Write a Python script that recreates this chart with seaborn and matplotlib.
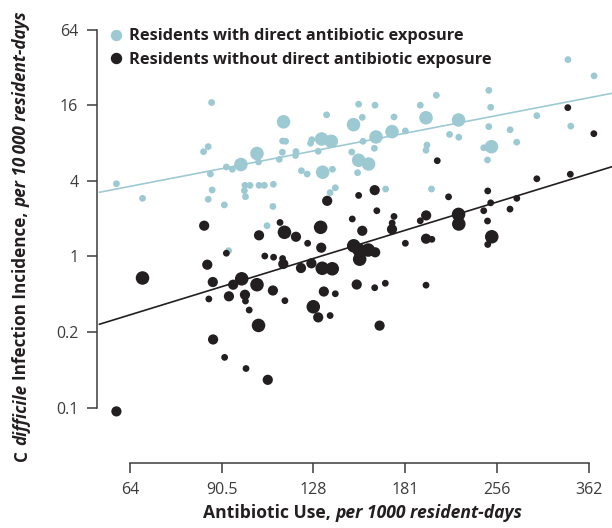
import numpy as np
import pandas as pd
import matplotlib
matplotlib.use("Agg")
import matplotlib.pyplot as plt
import seaborn as sns
from matplotlib.lines import Line2D

# ---------------- data ----------------
light_x = [60.8, 67.1, 87.1, 86.0, 84.5, 103.4, 104.0, 97.3, 92.1, 94.2,
           86.7, 87.3, 86.0, 91.4, 98.8, 100.7, 98.6, 99.0, 104.2, 106.3,
           110.0, 109.8, 107.4, 92.9, 114.3, 113.9, 115.2, 113.8, 119.8, 119.6,
           112.5, 122.3, 125.0, 203.6, 151.8, 161.5, 191.6, 134.5, 153.9, 173.5,
           148.9, 195.8, 162.1, 172.2, 181.1, 132.0, 136.9, 127.2, 126.6, 154.3,
           161.1, 130.3, 147.9, 196.5, 195.8, 151.8, 157.6, 151.2, 132.5, 137.5,
           136.3, 139.0, 168.1, 199.9, 334.7, 369.4, 248.2, 250.0, 297.6, 338.3,
           248.2, 269.0, 214.0, 221.6, 221.4, 275.8, 250.7, 243.5, 247.0]
light_y = [3.79, 2.90, 16.8, 7.48, 6.82, 6.60, 5.65, 5.39, 5.15, 4.94,
           4.53, 3.38, 2.85, 2.57, 3.68, 3.68, 3.34, 2.99, 3.68, 3.68,
           3.75, 2.50, 1.756, 1.11, 11.8, 8.30, 8.25, 6.75, 6.84, 6.36,
           5.93, 4.81, 4.53, 19.2, 16.3, 16.0, 16.0, 13.4, 12.8, 12.9,
           11.2, 12.7, 8.94, 9.85, 9.98, 8.61, 8.25, 8.50, 7.96, 8.25,
           7.26, 6.87, 6.78, 7.71, 7.00, 5.83, 5.44, 4.64, 4.68, 4.94,
           3.22, 3.52, 3.44, 3.44, 36.9, 27.4, 21.0, 15.4, 13.2, 10.9,
           10.8, 10.2, 9.36, 8.89, 12.2, 8.12, 7.47, 7.33, 5.86]
light_size = [1, 1, 1, 1, 1, 3, 1, 3, 1, 1,
              1, 1, 1, 1, 1, 1, 1, 1, 1, 1,
              1, 1, 1, 1, 3, 1, 1, 1, 1, 1,
              1, 1, 1, 1, 1, 1, 1, 1, 1, 1,
              3, 3, 3, 3, 1, 3, 3, 1, 1, 1,
              1, 1, 1, 1, 1, 3, 3, 1, 3, 1,
              1, 1, 1, 1, 1, 1, 1, 1, 1, 1,
              1, 1, 1, 1, 3, 1, 3, 1, 1]

dark_x = [60.8, 67.1, 84.7, 104.2, 112.8, 114.7, 119.8, 92.1, 106.5, 110.1,
          113.9, 114.2, 85.7, 87.5, 97.6, 94.5, 103.4, 109.8, 86.2, 93.0,
          98.8, 99.0, 100.4, 104.0, 87.6, 91.5, 99.2, 107.7, 114.9, 122.1,
          127.0, 132.3, 137.4, 133.1, 139.0, 150.7, 161.3, 167.9, 195.8, 127.9,
          130.3, 136.3, 164.3, 161.3, 151.8, 134.8, 213.2, 162.6, 148.2, 173.5,
          172.3, 172.2, 195.9, 191.6, 131.5, 153.9, 125.2, 131.8, 195.8, 200.2,
          181.1, 149.0, 152.1, 157.4, 161.6, 152.4, 369.1, 334.5, 204.3, 337.7,
          297.6, 247.2, 250.0, 275.9, 243.5, 268.9, 221.4, 221.6, 247.0, 251.0,
          247.2]
dark_y = [0.0583, 0.673, 1.756, 1.472, 1.862, 1.556, 1.433, 1.060, 1.007, 0.985,
          0.962, 0.870, 0.859, 0.625, 0.663, 0.595, 0.595, 0.535, 0.458, 0.481,
          0.495, 0.441, 0.374, 0.282, 0.218, 0.157, 0.128, 0.104, 0.444, 0.808,
          0.881, 0.804, 0.797, 0.525, 0.504, 0.597, 0.563, 0.611, 0.590, 0.397,
          0.327, 0.338, 0.281, 3.37, 3.06, 2.77, 2.98, 2.31, 1.986, 2.08,
          1.845, 1.644, 2.12, 1.921, 1.705, 1.599, 1.272, 1.173, 1.383, 1.368,
          1.272, 1.214, 1.124, 1.124, 1.078, 0.950, 9.49, 15.3, 5.78, 4.51,
          4.15, 3.32, 2.67, 2.90, 2.31, 2.38, 2.16, 1.811, 1.914, 1.433,
          1.244]
dark_size = [2, 3, 2, 2, 1, 3, 2, 1, 1, 1,
             1, 2, 2, 2, 3, 2, 3, 2, 1, 2,
             2, 1, 1, 3, 2, 1, 1, 2, 1, 2,
             2, 3, 3, 2, 1, 2, 1, 1, 1, 3,
             2, 1, 2, 2, 1, 2, 1, 1, 1, 1,
             1, 2, 2, 1, 3, 2, 1, 2, 2, 1,
             1, 3, 3, 3, 2, 3, 1, 1, 1, 1,
             1, 1, 1, 1, 1, 1, 3, 3, 1, 3,
             1]

# fitted regression lines (end points)
line_x = [57.0, 395.3]
light_fit = [3.24, 19.9]
dark_fit = [0.288, 5.18]

legend_labels = ["Residents with direct antibiotic exposure",
                 "Residents without direct antibiotic exposure"]
x_ticks = [64, 90.5, 128, 181, 256, 362]
x_tick_labels = ["64", "90.5", "128", "181", "256", "362"]
y_ticks = [0.0625, 0.25, 1, 4, 16, 64]
y_tick_labels = ["0.1", "0.2", "1", "4", "16", "64"]

# ---------------- style ----------------
sns.set_theme(style="ticks")
FONT = "Open Sans"
plt.rcParams["font.family"] = [FONT, "DejaVu Sans"]

LIGHT = "#9dcad2"
DARK = "#231f20"
AXC = "#3c3c3c"

W, H = 612, 528
fig = plt.figure(figsize=(W / 100, H / 100), dpi=100)
ax = fig.add_axes([97 / W, 65 / H, 515 / W, 443 / H])

df = pd.DataFrame({
    "x": light_x + dark_x,
    "y": light_y + dark_y,
    "group": ["light"] * len(light_x) + ["dark"] * len(dark_x),
    "size": light_size + dark_size,
})

sns.scatterplot(data=df, x="x", y="y", hue="group", size="size",
                sizes={1: 24, 2: 54, 3: 95},
                palette={"light": LIGHT, "dark": DARK},
                linewidth=0, alpha=1, legend=False, ax=ax, zorder=3)

sns.lineplot(x=line_x, y=light_fit, color=LIGHT, lw=1.2, ax=ax, zorder=2)
sns.lineplot(x=line_x, y=dark_fit, color=DARK, lw=1.2, ax=ax, zorder=2)

ax.set_xscale("log", base=2)
ax.set_yscale("log", base=2)
ax.set_xlim(56.5, 395.3)
ax.set_ylim(0.02263, 76.3)
ax.set_xticks(x_ticks)
ax.set_xticklabels(x_tick_labels)
ax.set_yticks(y_ticks)
ax.set_yticklabels(y_tick_labels)
ax.minorticks_off()
ax.set_xlabel("")
ax.set_ylabel("")

sns.despine(ax=ax)
ax.spines["left"].set_bounds(0.0625, 64)
ax.spines["bottom"].set_bounds(64, 362)
for sp in ("left", "bottom"):
    ax.spines[sp].set_color(AXC)
    ax.spines[sp].set_linewidth(1.1)
ax.tick_params(axis="both", direction="out", length=7.5, width=1.1,
               color=AXC, labelcolor=AXC, labelsize=11.5, pad=6)

handles = [Line2D([0], [0], marker="o", ls="", color=LIGHT, markersize=7.2),
           Line2D([0], [0], marker="o", ls="", color=DARK, markersize=7.2)]
ax.legend(handles, legend_labels, loc="upper left",
          bbox_to_anchor=(109 / W, 1 - 28.5 / H), bbox_transform=fig.transFigure,
          frameon=False, borderpad=0, borderaxespad=0, handlelength=0.8,
          handletextpad=0.45, labelspacing=0.45,
          prop={"weight": "bold", "size": 11.75}, labelcolor=DARK)


# ---------------- mixed-style axis titles ----------------
def mixed_text(pieces, x0, y0, size, vertical=False, center=False):
    renderer = fig.canvas.get_renderer()

    def make(s, style):
        return fig.text(0, 0, s, fontsize=size, fontweight="bold",
                        fontstyle=style, color=DARK,
                        rotation=90 if vertical else 0,
                        rotation_mode="anchor", ha="left", va="baseline",
                        family=[FONT, "DejaVu Sans"])

    def length(t):
        bb = t.get_window_extent(renderer)
        return bb.height if vertical else bb.width

    t1 = make("nn", "normal"); t2 = make("n n", "normal")
    space = length(t2) - length(t1)
    t1.remove(); t2.remove()

    texts = [make(s, st) for s, st in pieces]
    lens = [length(t) for t in texts]
    total = sum(lens) + space * (len(texts) - 1)
    pos = (x0 - total / 2) if center else x0
    if vertical:
        pos = (y0 - total / 2) if center else y0
    for t, L in zip(texts, lens):
        if vertical:
            t.set_position((x0 / W, pos / H))
        else:
            t.set_position((pos / W, y0 / H))
        pos += L + space


# x label: baseline at ~517 px from top, centred on x=363
mixed_text([("Antibiotic Use,", "normal"),
            ("per 1000 resident-days", "italic")],
           363, H - 518, 12.6, vertical=False, center=True)

# y label: baseline at x~26 px, centred on y~236
mixed_text([("C", "normal"), ("difficile", "italic"),
            ("Infection Incidence,", "normal"),
            ("per 10\u2009000 resident-days", "italic")],
           26.5, H - 236, 12.3, vertical=True, center=True)

fig.savefig("out.png", dpi=100)
